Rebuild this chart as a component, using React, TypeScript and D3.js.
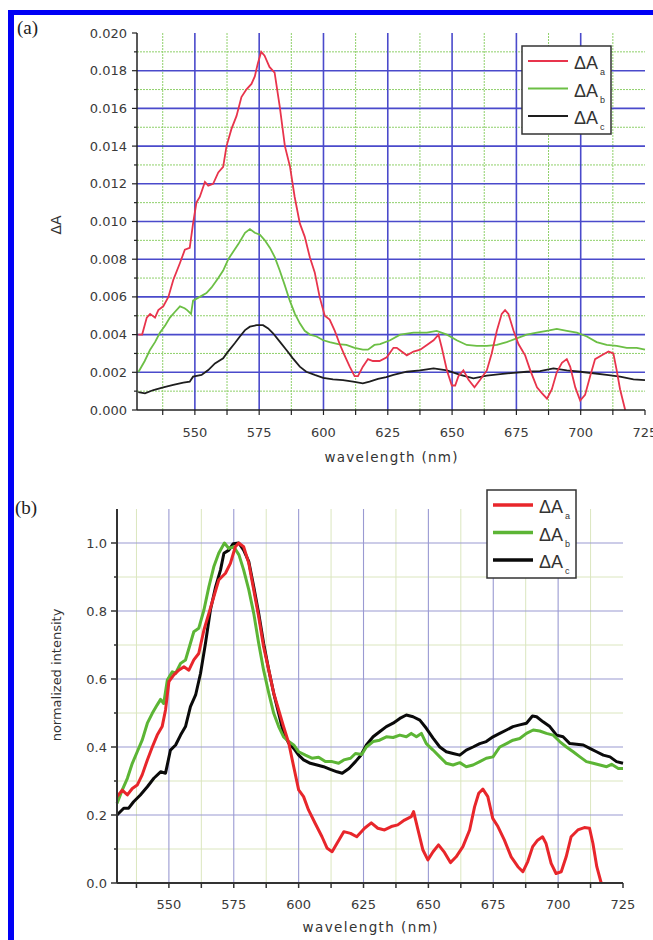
import React from 'react';
import * as d3 from 'd3';

type Pt = [number, number];

// ---- panel (a): difference absorbance ----
const dAa: Pt[] = [
  [528, 0.004], [529.5, 0.004], [531.3, 0.0049], [532.6, 0.0051], [534.5, 0.0049], [535.8, 0.0053],
  [537.7, 0.0055], [539.7, 0.006], [541.6, 0.0069], [544.2, 0.0078], [546.1, 0.0085], [548, 0.0086],
  [549.3, 0.0099], [550.6, 0.011], [551.9, 0.0113], [553.9, 0.0121], [555.2, 0.0119], [557.1, 0.012],
  [559.1, 0.0126], [561, 0.0129], [562.3, 0.014], [564.2, 0.0149], [566.2, 0.0156], [568.1, 0.0166],
  [570, 0.017], [572, 0.0173], [573.3, 0.0177], [574.5, 0.0184], [575.8, 0.019], [577.1, 0.0188],
  [579, 0.0182], [581, 0.0179], [583, 0.0161], [585, 0.014], [587, 0.0129], [588.8, 0.0113],
  [590.8, 0.0099], [592.7, 0.0092], [594.7, 0.0081], [596.6, 0.0073], [598.5, 0.006], [600.5, 0.005],
  [602.4, 0.0048], [604.4, 0.0042], [606.3, 0.0035], [608.2, 0.0029], [610.2, 0.0023], [612.1, 0.0018],
  [613.4, 0.0018], [615.3, 0.0023], [617.3, 0.0027], [619.2, 0.0026], [621.8, 0.0026], [624.6, 0.0028],
  [627.2, 0.0033], [628.5, 0.0033], [630.4, 0.0031], [632.4, 0.0029], [635, 0.0031], [637.6, 0.0032],
  [640.2, 0.00345], [642.8, 0.0037], [644.7, 0.004], [646, 0.0033], [648, 0.0021], [649.9, 0.0013],
  [651.2, 0.0013], [652.5, 0.0018], [654.4, 0.0021], [656.4, 0.0016], [658.7, 0.0012], [660.9, 0.0016],
  [663.5, 0.0021], [665.4, 0.003], [667.4, 0.0042], [669.3, 0.0051], [670.6, 0.0053], [671.9, 0.0051],
  [673.9, 0.0042], [675.8, 0.0035], [678.4, 0.0029], [680.4, 0.0021], [683, 0.0012], [684.9, 0.0009],
  [686.9, 0.0006], [688.8, 0.0011], [690.7, 0.002], [692.7, 0.0025], [694.6, 0.0027], [695.9, 0.0023],
  [697.9, 0.0012], [699.8, 0.0005], [701.7, 0.0008], [703.7, 0.0018], [705.6, 0.0027], [708.2, 0.0029],
  [710.8, 0.0031], [712.7, 0.003], [714, 0.0021], [715.3, 0.0011], [717.3, 0],
];

const dAb: Pt[] = [
  [528, 0.002], [530.5, 0.0026], [532.6, 0.0032], [534.5, 0.0036], [536.4, 0.0041], [538.5, 0.0045],
  [540.3, 0.0049], [542.2, 0.0052], [544.2, 0.0055], [546, 0.0054], [547, 0.0053], [548.5, 0.0051],
  [549.3, 0.0058], [551.9, 0.006], [554.5, 0.0062], [556.5, 0.0065], [559.1, 0.007], [561, 0.0074],
  [563, 0.008], [564.9, 0.0084], [566.9, 0.0088], [569.5, 0.0094], [571.4, 0.0096], [573.3, 0.0094],
  [575.3, 0.0093], [577.2, 0.009], [579.2, 0.0086], [581.1, 0.0081], [583, 0.0074], [585, 0.0066],
  [586.9, 0.0058], [588.9, 0.0051], [590.8, 0.0046], [592.7, 0.0042], [594.7, 0.004], [597.3, 0.0039],
  [599.9, 0.0037], [602.4, 0.0036], [605.7, 0.0035], [608.9, 0.00345], [612.1, 0.0033], [615.3, 0.0032],
  [617.3, 0.0032], [619.8, 0.00345], [622, 0.0035], [625.9, 0.0037], [629.8, 0.004], [635, 0.0041],
  [640.2, 0.0041], [644, 0.0042], [648, 0.004], [651.8, 0.0037], [655.7, 0.00345], [659.6, 0.0034],
  [663.5, 0.0034], [667.4, 0.00345], [671.2, 0.0036], [675.1, 0.0038], [679, 0.004], [682.9, 0.0041],
  [686.8, 0.0042], [690.7, 0.0043], [694.6, 0.0042], [698.5, 0.0041], [702.4, 0.0039], [706.2, 0.0036],
  [710.1, 0.00345], [714, 0.0034], [717.9, 0.0033], [721.8, 0.0033], [725, 0.0032],
];

const dAc: Pt[] = [
  [528, 0.00095], [530.6, 0.00088], [533.9, 0.00106], [537.7, 0.0012], [541.6, 0.00133], [545.5, 0.00145],
  [548, 0.0015], [549.3, 0.00177], [552.6, 0.00186], [555.2, 0.00212], [557.8, 0.00247], [561, 0.00274],
  [562.9, 0.0031], [565.5, 0.00354], [567.5, 0.0039], [569.5, 0.00424], [571.4, 0.00442], [574, 0.0045],
  [576.5, 0.0045], [578.5, 0.00433], [580.4, 0.00407], [583, 0.00363], [585.6, 0.00318], [588.1, 0.00274],
  [590.8, 0.0023], [593.3, 0.00203], [596.6, 0.00186], [599.9, 0.00171], [603.7, 0.00162], [607.6, 0.00159],
  [611.5, 0.0015], [615.3, 0.00141], [617.9, 0.0015], [621.2, 0.00165], [624.4, 0.00175], [627.2, 0.00186],
  [632.4, 0.00203], [637.6, 0.0021], [642.8, 0.00221], [648, 0.0021], [653.2, 0.00186], [658.3, 0.00168],
  [663.5, 0.00182], [668.7, 0.0019], [673.9, 0.00197], [679, 0.00203], [684.2, 0.00206], [689.4, 0.00221],
  [694.6, 0.0021], [699.8, 0.00203], [704.9, 0.00195], [710.1, 0.00186], [715.3, 0.00177], [720.5, 0.00163],
  [725, 0.00159],
];

// ---- panel (b): normalized intensity ----
const nAa: Pt[] = [
  [530, 0.254], [532, 0.273], [534, 0.259], [535.9, 0.278], [537.8, 0.288], [539.7, 0.318], [541.7, 0.362],
  [543.6, 0.4], [545.5, 0.435], [547.4, 0.46], [548.7, 0.509], [550, 0.592], [551.9, 0.612], [553.8, 0.626],
  [555.8, 0.636], [557.7, 0.626], [559.6, 0.656], [561.5, 0.675], [563.5, 0.744], [565.4, 0.793],
  [567.3, 0.842], [569.2, 0.891], [571.8, 0.911], [573.7, 0.94], [575.6, 0.989], [576.9, 1.0], [578.8, 0.989],
  [580.8, 0.94], [582.7, 0.862], [584.6, 0.783], [586.5, 0.695], [588.5, 0.626], [590.4, 0.558],
  [592.3, 0.509], [594.2, 0.46], [596.2, 0.411], [598.1, 0.342], [600, 0.274], [601.9, 0.254], [603.8, 0.215],
  [606.4, 0.175], [609, 0.136], [611, 0.102], [612.9, 0.092], [614.8, 0.117], [617.4, 0.151], [620, 0.146],
  [622.4, 0.136], [625.4, 0.161], [628, 0.177], [630.5, 0.161], [633.1, 0.156], [635.7, 0.166], [638.2, 0.171],
  [640.8, 0.185], [643.4, 0.195], [644.3, 0.21], [646, 0.156], [647.9, 0.097], [649.8, 0.068], [651.8, 0.092],
  [653.9, 0.112], [656.2, 0.09], [658.5, 0.06], [660.7, 0.077], [663.3, 0.107], [665.9, 0.156], [667.8, 0.224],
  [669.4, 0.264], [671, 0.276], [672.9, 0.254], [674.8, 0.19], [676.8, 0.166], [679.3, 0.126], [681.9, 0.077],
  [684.5, 0.048], [686.4, 0.033], [688.3, 0.063], [690.2, 0.107], [692.1, 0.126], [694, 0.136], [695.3, 0.117],
  [697.3, 0.058], [699.2, 0.028], [701.2, 0.033], [703.1, 0.077], [705, 0.136], [707.6, 0.156], [710.1, 0.163],
  [712.1, 0.161], [713.4, 0.117], [714.9, 0.048], [716.6, 0],
];

const nAb: Pt[] = [
  [530, 0.234], [532, 0.273], [534, 0.308], [535.9, 0.352], [537.8, 0.386], [539.7, 0.42], [541.7, 0.47],
  [543.6, 0.499], [545.5, 0.524], [546.8, 0.54], [548, 0.528], [549.4, 0.597], [551.3, 0.621], [552.6, 0.617],
  [554.5, 0.646], [556.4, 0.656], [558.3, 0.705], [559.6, 0.739], [561.5, 0.749], [563.5, 0.803],
  [565.4, 0.871], [567.3, 0.93], [569.2, 0.97], [571.4, 1.0], [573.1, 0.984], [575, 0.989], [577, 0.965],
  [578.8, 0.921], [580.8, 0.862], [582.7, 0.793], [584.6, 0.705], [586.5, 0.626], [588.5, 0.558],
  [590.4, 0.499], [592.3, 0.46], [594.2, 0.43], [596.2, 0.416], [598.1, 0.406], [600, 0.386], [602.6, 0.376],
  [605.1, 0.367], [607.7, 0.37], [610.3, 0.357], [612.9, 0.357], [615.4, 0.352], [617.4, 0.362], [620, 0.367],
  [621.9, 0.381], [624.3, 0.378], [626.1, 0.4], [628.7, 0.416], [631.2, 0.42], [633.8, 0.43], [636.4, 0.428],
  [639, 0.435], [641.5, 0.43], [643.4, 0.44], [645.4, 0.43], [647.3, 0.44], [649.2, 0.41], [651.8, 0.391],
  [654.4, 0.371], [656.9, 0.352], [659.5, 0.347], [662.1, 0.354], [664.6, 0.342], [667.2, 0.347],
  [669.8, 0.357], [672.3, 0.367], [674.9, 0.371], [677.5, 0.4], [680.1, 0.41], [682.6, 0.42], [685.2, 0.425],
  [687.8, 0.44], [690.4, 0.45], [692.9, 0.447], [695.5, 0.44], [698.1, 0.435], [700.6, 0.416], [703.2, 0.4],
  [705.8, 0.386], [708.4, 0.371], [710.9, 0.357], [713.5, 0.352], [716.1, 0.347], [718.7, 0.342],
  [720.6, 0.349], [723.2, 0.337], [725, 0.337],
];

const nAc: Pt[] = [
  [530, 0.2], [532.6, 0.22], [534.5, 0.22], [536.4, 0.239], [539, 0.259], [541.7, 0.283], [544.2, 0.308],
  [546.8, 0.327], [548.7, 0.323], [550.6, 0.391], [552.6, 0.406], [554.5, 0.435], [556.4, 0.46], [558.3, 0.519],
  [560.3, 0.553], [562.2, 0.617], [564.1, 0.705], [566, 0.803], [568, 0.871], [569.9, 0.921], [571.2, 0.97],
  [573.1, 0.979], [574.8, 0.998], [576.9, 1.0], [578.8, 0.979], [580.8, 0.945], [582.7, 0.871], [584.6, 0.793],
  [586.5, 0.705], [588.5, 0.626], [590.4, 0.558], [592.3, 0.499], [594.2, 0.44], [596.2, 0.411],
  [598.1, 0.396], [600, 0.376], [601.9, 0.362], [604.5, 0.352], [607.1, 0.347], [609.6, 0.342], [612.2, 0.334],
  [614.8, 0.327], [616.8, 0.323], [619.4, 0.337], [621.9, 0.357], [624, 0.376], [626.1, 0.406], [628.7, 0.43],
  [631.2, 0.445], [633.8, 0.46], [636.4, 0.47], [639, 0.484], [641.5, 0.494], [644.1, 0.489], [646.7, 0.479],
  [649.2, 0.455], [651.8, 0.426], [654.4, 0.4], [656.9, 0.386], [659.5, 0.381], [662.1, 0.376], [664.6, 0.391],
  [667.2, 0.4], [669.8, 0.41], [672.3, 0.416], [674.9, 0.43], [677.5, 0.44], [680.1, 0.45], [682.6, 0.46],
  [685.2, 0.465], [687.8, 0.47], [690.1, 0.491], [691.7, 0.489], [694.2, 0.474], [696.8, 0.46], [699.4, 0.435],
  [701.9, 0.43], [704.5, 0.41], [707.1, 0.408], [709.7, 0.406], [712.2, 0.396], [714.8, 0.386], [717.4, 0.376],
  [720, 0.371], [722.5, 0.357], [725, 0.352],
];

const xTickValues = [550, 575, 600, 625, 650, 675, 700, 725];
const legendSubs = ['a', 'b', 'c'];

const tickFont = '"DejaVu Sans", Verdana, sans-serif';
const legendFont = '"Liberation Sans", Arial, sans-serif';

function Legend({ x, y, colors, lw }: { x: number; y: number; colors: string[]; lw: number }) {
  return (
    <g transform={`translate(${x},${y})`}>
      <rect x={0} y={0} width={89} height={88} fill="#fff" stroke="#333" strokeWidth={1.5} />
      {legendSubs.map((s, i) => {
        const cy = 15 + i * 27.5;
        return (
          <g key={s}>
            <line x1={6} x2={46} y1={cy} y2={cy} stroke={colors[i]} strokeWidth={lw} />
            <text x={52} y={cy + 8} fontFamily={legendFont} fontSize={18} fill="#333">
              ΔA
            </text>
            <text x={78} y={cy + 14} fontFamily={legendFont} fontSize={9} fill="#333">
              {s}
            </text>
          </g>
        );
      })}
    </g>
  );
}

function PanelA() {
  const x = d3.scaleLinear().domain([527.5, 725]).range([137, 645]);
  const y = d3.scaleLinear().domain([0, 0.02]).range([410, 33]);
  const line = d3.line<Pt>().x(d => x(d[0])).y(d => y(d[1]));
  const majorX = d3.range(550, 701, 25);
  const minorX = d3.range(537.5, 725, 25);
  const majorY = d3.range(1, 10).map(i => i * 0.002);
  const minorY = d3.range(0, 10).map(i => 0.001 + i * 0.002);
  const yTicks = d3.range(0, 11).map(i => i * 0.002);
  const yMinor = d3.range(0, 21).map(i => i * 0.001);
  const xSmall = d3.range(537.5, 726, 12.5);
  const fmt = d3.format('.3f');
  const [x0, x1] = x.range();
  const [y0, y1] = y.range();
  return (
    <g>
      {minorY.map(v => (
        <line key={'gy' + v} x1={x0} x2={x1} y1={y(v)} y2={y(v)} stroke="#8fd06a" strokeWidth={1} strokeDasharray="2,1" />
      ))}
      {minorX.map(v => (
        <line key={'gx' + v} x1={x(v)} x2={x(v)} y1={y0} y2={y1} stroke="#8fd06a" strokeWidth={1} strokeDasharray="2,1" />
      ))}
      {majorY.map(v => (
        <line key={'My' + v} x1={x0} x2={x1} y1={y(v)} y2={y(v)} stroke="#4a4acb" strokeWidth={1.6} />
      ))}
      {majorX.map(v => (
        <line key={'Mx' + v} x1={x(v)} x2={x(v)} y1={y0} y2={y1} stroke="#4a4acb" strokeWidth={1.6} />
      ))}
      <path d={line(dAb) || ''} fill="none" stroke="#6cbf45" strokeWidth={1.8} />
      <path d={line(dAc) || ''} fill="none" stroke="#1e1e1e" strokeWidth={1.8} />
      <path d={line(dAa) || ''} fill="none" stroke="#e8344c" strokeWidth={1.8} />
      <line x1={x0} x2={x0} y1={y0} y2={y1} stroke="#222" strokeWidth={1.5} />
      <line x1={x0} x2={x1} y1={y0} y2={y0} stroke="#222" strokeWidth={1.5} />
      {yMinor.map((v, i) => (
        <line key={'ty' + i} x1={x0} x2={x0 - (i % 2 === 0 ? 5 : 3)} y1={y(v)} y2={y(v)} stroke="#222" strokeWidth={1.2} />
      ))}
      {xSmall.map(v => (
        <line key={'tx' + v} x1={x(v)} x2={x(v)} y1={y0} y2={y0 + 5} stroke="#222" strokeWidth={1.2} />
      ))}
      {yTicks.map(v => (
        <text key={'ly' + v} x={x0 - 10} y={y(v) + 4.5} textAnchor="end" fontFamily={tickFont} fontSize={13} fill="#3a3a3a">
          {fmt(v)}
        </text>
      ))}
      {xTickValues.map(v => (
        <text key={'lx' + v} x={x(v)} y={y0 + 27} textAnchor="middle" fontFamily={tickFont} fontSize={13} fill="#3a3a3a">
          {v}
        </text>
      ))}
      <text x={391} y={462} textAnchor="middle" fontFamily={tickFont} fontSize={13.5} fill="#333" textLength={133} lengthAdjust="spacing">
        wavelength (nm)
      </text>
      <text transform="translate(61,225) rotate(-90)" textAnchor="middle" fontFamily={tickFont} fontSize={14} fill="#333">
        ΔA
      </text>
      <Legend x={522} y={46} colors={['#e8344c', '#6cbf45', '#1e1e1e']} lw={2} />
    </g>
  );
}

function PanelB() {
  const x = d3.scaleLinear().domain([530, 725]).range([117, 623]);
  const y = d3.scaleLinear().domain([0, 1.1]).range([883, 509]);
  const line = d3.line<Pt>().x(d => x(d[0])).y(d => y(d[1]));
  const majorX = d3.range(550, 701, 25);
  const minorX = d3.range(537.5, 725, 25);
  const majorY = [0.2, 0.4, 0.6, 0.8, 1.0];
  const minorY = [0.1, 0.3, 0.5, 0.7, 0.9];
  const yTicks = [0, 0.2, 0.4, 0.6, 0.8, 1.0];
  const yMinor = [0.1, 0.3, 0.5, 0.7, 0.9];
  const xSmall = d3.range(537.5, 726, 12.5);
  const fmt = d3.format('.1f');
  const [x0, x1] = x.range();
  const [y0, y1] = y.range();
  return (
    <g>
      {minorY.map(v => (
        <line key={'gy' + v} x1={x0} x2={x1} y1={y(v)} y2={y(v)} stroke="#dbe6bf" strokeWidth={1} />
      ))}
      {minorX.map(v => (
        <line key={'gx' + v} x1={x(v)} x2={x(v)} y1={y0} y2={y1} stroke="#dbe6bf" strokeWidth={1} />
      ))}
      {majorY.map(v => (
        <line key={'My' + v} x1={x0} x2={x1} y1={y(v)} y2={y(v)} stroke="#9a9ad2" strokeWidth={1.1} />
      ))}
      {majorX.map(v => (
        <line key={'Mx' + v} x1={x(v)} x2={x(v)} y1={y0} y2={y1} stroke="#9a9ad2" strokeWidth={1.1} />
      ))}
      <path d={line(nAc) || ''} fill="none" stroke="#0a0a0a" strokeWidth={3} strokeLinejoin="round" />
      <path d={line(nAb) || ''} fill="none" stroke="#5cb535" strokeWidth={3} strokeLinejoin="round" />
      <path d={line(nAa) || ''} fill="none" stroke="#e8262b" strokeWidth={3} strokeLinejoin="round" />
      <line x1={x0} x2={x0} y1={y0} y2={y1} stroke="#333" strokeWidth={2} />
      <line x1={x0} x2={x1} y1={y0} y2={y0} stroke="#333" strokeWidth={2} />
      {yTicks.map(v => (
        <line key={'ty' + v} x1={x0} x2={x0 - 6} y1={y(v)} y2={y(v)} stroke="#333" strokeWidth={1.5} />
      ))}
      {yMinor.map(v => (
        <line key={'tym' + v} x1={x0} x2={x0 - 3} y1={y(v)} y2={y(v)} stroke="#333" strokeWidth={1.5} />
      ))}
      {xSmall.map(v => (
        <line key={'tx' + v} x1={x(v)} x2={x(v)} y1={y0} y2={y0 + 5} stroke="#333" strokeWidth={1.5} />
      ))}
      {yTicks.map(v => (
        <text key={'ly' + v} x={x0 - 10} y={y(v) + 4.5} textAnchor="end" fontFamily={tickFont} fontSize={13} fill="#3a3a3a">
          {fmt(v)}
        </text>
      ))}
      {xTickValues.map(v => (
        <text key={'lx' + v} x={x(v)} y={y0 + 26} textAnchor="middle" fontFamily={tickFont} fontSize={13} fill="#3a3a3a">
          {v}
        </text>
      ))}
      <text x={370} y={932} textAnchor="middle" fontFamily={tickFont} fontSize={13.5} fill="#333" textLength={135} lengthAdjust="spacing">
        wavelength (nm)
      </text>
      <text transform="translate(61,675) rotate(-90)" textAnchor="middle" fontFamily={tickFont} fontSize={13} fill="#333">
        normalized intensity
      </text>
      <Legend x={487} y={490} colors={['#e8262b', '#5cb535', '#0a0a0a']} lw={3.5} />
    </g>
  );
}

export default function App() {
  return (
    <svg
      width={653}
      height={940}
      style={{ position: 'absolute', left: 0, top: 0, background: '#fff' }}
    >
      <rect x={0} y={0} width={653} height={940} fill="#fff" />
      {/* blue frame: only top and left edges are inside the crop */}
      <rect x={8} y={10} width={645} height={5} fill="#0000f5" />
      <rect x={8} y={10} width={6} height={930} fill="#0000f5" />
      <text x={17} y={34} fontFamily='"Liberation Serif", "Times New Roman", serif' fontSize={19} fill="#222">
        (a)
      </text>
      <text x={15} y={514} fontFamily='"Liberation Serif", "Times New Roman", serif' fontSize={19} fill="#222">
        (b)
      </text>
      <PanelA />
      <PanelB />
    </svg>
  );
}
